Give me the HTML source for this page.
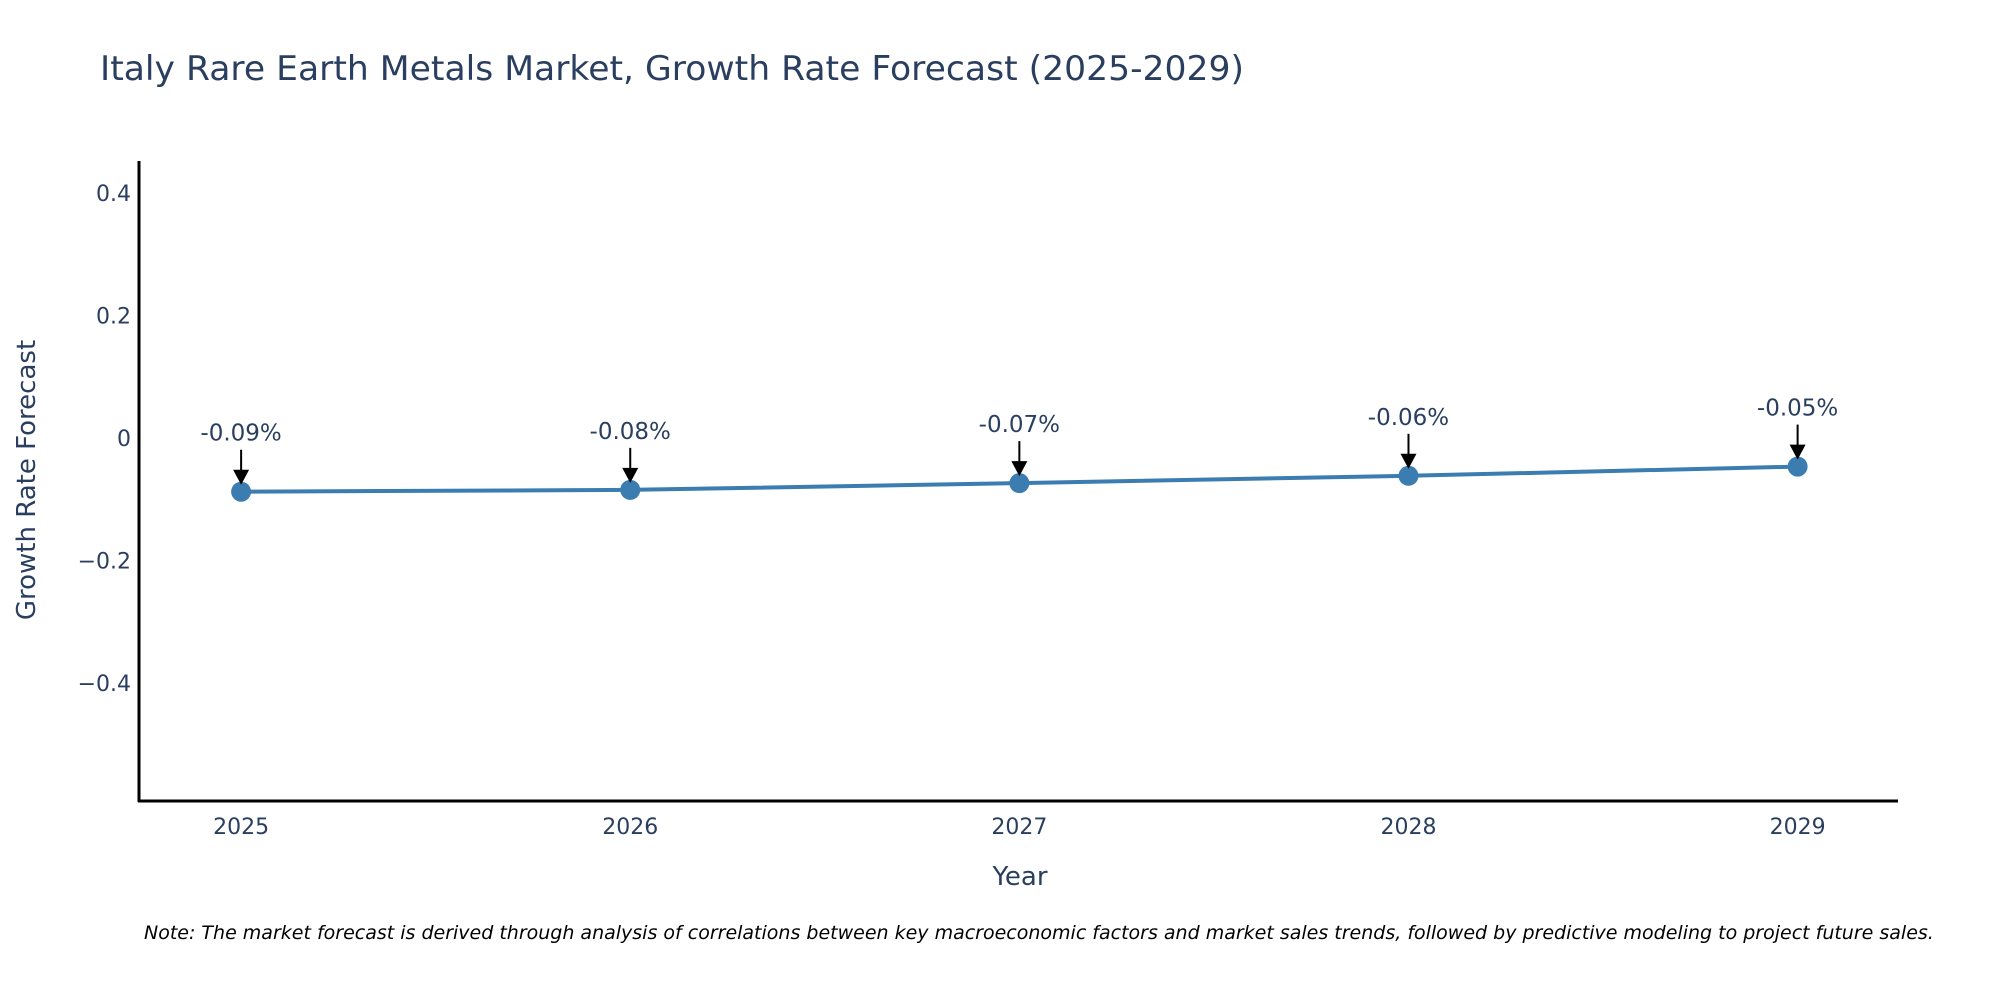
<!DOCTYPE html>
<html><head><meta charset="utf-8"><style>
html,body{margin:0;padding:0;background:#fff;}
svg{display:block;font-family:"DejaVu Sans","Liberation Sans",sans-serif;}
</style></head><body>
<svg id="chart" width="2000" height="1000" viewBox="0 0 2000 1000" xmlns="http://www.w3.org/2000/svg">
<text x="100" y="80" font-size="34" fill="#2a3f5f" textLength="1144" lengthAdjust="spacingAndGlyphs">Italy Rare Earth Metals Market, Growth Rate Forecast (2025-2029)</text>
<g id="yticks"></g>
<g id="xticks"></g>
<line x1="139" y1="161" x2="139" y2="802" stroke="#000" stroke-width="3"/>
<line x1="138" y1="801" x2="1898" y2="801" stroke="#000" stroke-width="3"/>
<g id="series"></g>
<g id="annots"></g>
<text transform="translate(35,480) rotate(-90)" text-anchor="middle" font-size="26" fill="#2a3f5f">Growth Rate Forecast</text>
<text x="1020" y="885" text-anchor="middle" font-size="26" fill="#2a3f5f">Year</text>
<text x="144" y="939" font-size="19" font-style="italic" fill="#000">Note: The market forecast is derived through analysis of correlations between key macroeconomic factors and market sales trends, followed by predictive modeling to project future sales.</text>
</svg>
<script>
const years = ["2025","2026","2027","2028","2029"];
const values = [-0.088, -0.085, -0.074, -0.062, -0.047];
const labels = ["-0.09%","-0.08%","-0.07%","-0.06%","-0.05%"];
const yTickValues = [0.4, 0.2, 0, -0.2, -0.4];
const yTickLabels = ["0.4","0.2","0","\u22120.2","\u22120.4"];

const NS = "http://www.w3.org/2000/svg";
const X0 = 138, X1 = 1898, Y0 = 801, Y1 = 161;
const xMin = -0.265, xMax = 4.258, yMin = -0.593, yMax = 0.452;
const xs = i => X0 + (i - xMin) / (xMax - xMin) * (X1 - X0);
const ys = v => Y0 - (v - yMin) / (yMax - yMin) * (Y0 - Y1);
function mk(tag, attrs, parent){const e=document.createElementNS(NS,tag);for(const k in attrs)e.setAttribute(k,attrs[k]);parent.appendChild(e);return e;}

const yt = document.getElementById('yticks');
yTickValues.forEach((v,i)=>{
  const t = mk('text',{x:131,y:ys(v)+8,'text-anchor':'end','font-size':22,fill:'#2a3f5f'},yt);
  
  
  t.textContent = yTickLabels[i];
});
const xt = document.getElementById('xticks');
years.forEach((y,i)=>{
  const t = mk('text',{x:xs(i),y:834,'text-anchor':'middle','font-size':22,fill:'#2a3f5f'},xt);
  
  
  t.textContent = y;
});
const s = document.getElementById('series');
const pts = values.map((v,i)=>xs(i)+','+ys(v)).join(' ');
const pl = mk('polyline',{points:pts,fill:'none',stroke:'#3b7db1','stroke-width':4},s);


values.forEach((v,i)=>{
  const c = mk('circle',{cx:xs(i),cy:ys(v),r:10,fill:'#3b7db1'},s);
  
  
});
const a = document.getElementById('annots');
values.forEach((v,i)=>{
  const x = xs(i), y = ys(v);
  const ln = mk('line',{x1:x,y1:y-42,x2:x,y2:y-20,stroke:'#000','stroke-width':2},a);
  
  
  const hd = mk('polygon',{points:(x-8)+','+(y-22)+' '+(x+8)+','+(y-22)+' '+x+','+(y-7),fill:'#000'},a);
  
  
  const t = mk('text',{x:x,y:y-51,'text-anchor':'middle','font-size':23,fill:'#2a3f5f'},a);
  
  
  t.textContent = labels[i];
});
</script>
</body></html>
